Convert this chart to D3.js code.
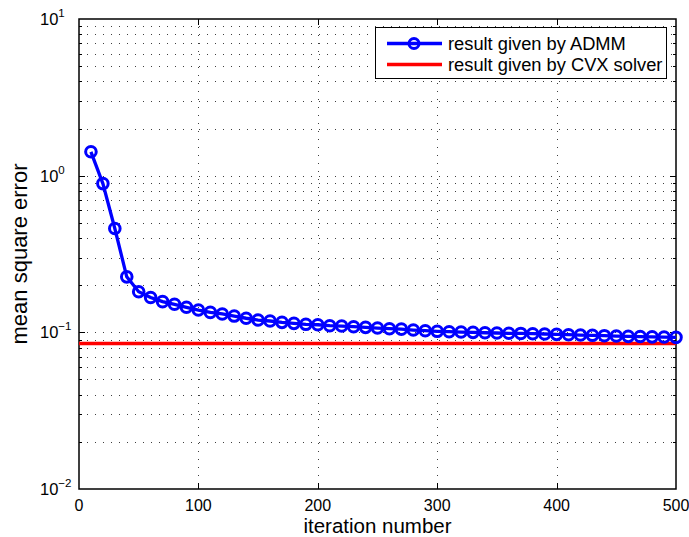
<!DOCTYPE html>
<html>
<head>
<meta charset="utf-8">
<script src="https://cdn.jsdelivr.net/npm/d3@7"></script>
<style>
  body { margin: 0; background: #fff; }
  text { font-family: "Liberation Sans", Arial, sans-serif; fill: #000; }
</style>
</head>
<body>
<div id="chart"></div>
<script>
// data
const iterations = [10, 20, 30, 40, 50, 60, 70, 80, 90, 100,
                    110, 120, 130, 140, 150, 160, 170, 180, 190, 200,
                    210, 220, 230, 240, 250, 260, 270, 280, 290, 300,
                    310, 320, 330, 340, 350, 360, 370, 380, 390, 400,
                    410, 420, 430, 440, 450, 460, 470, 480, 490, 500];
const admmMse    = [1.42, 0.89, 0.46, 0.226, 0.1815, 0.167, 0.157, 0.151, 0.1445, 0.1388,
                    0.134, 0.131, 0.127, 0.123, 0.1198, 0.1181, 0.1158, 0.1141, 0.1125, 0.1118,
                    0.1102, 0.1097, 0.1086, 0.1076, 0.1065, 0.1055, 0.1048, 0.1034, 0.1024, 0.1015,
                    0.1009, 0.1004, 0.1000, 0.0994, 0.0990, 0.0986, 0.0984, 0.0980, 0.0976, 0.0971,
                    0.0966, 0.0961, 0.0957, 0.0952, 0.0947, 0.0943, 0.0940, 0.0936, 0.0933, 0.0929];
const cvxMse     = [0.085, 0.085];
const cvxIter    = [0, 500];
const xTicks     = [0, 100, 200, 300, 400, 500];
const yTicks     = [0.01, 0.1, 1, 10];
const yExponents = ["\u22122", "\u22121", "0", "1"];
const seriesNames = ["result given by ADMM", "result given by CVX solver"];

const width  = 689;
const height = 537;
const plot = { left: 79, right: 676, top: 19, bottom: 489 };

const x = d3.scaleLinear().domain([0, 500]).range([plot.left, plot.right]);
const y = d3.scaleLog().domain([0.01, 10]).range([plot.bottom, plot.top]);

const svg = d3.select("#chart").append("svg")
  .attr("width", width)
  .attr("height", height);

// minor values for log grid
let minorVals = [];
[0.01, 0.1, 1].forEach(d => {
  for (let k = 2; k <= 9; k++) minorVals.push(d * k);
});

// grid
const grid = svg.append("g")
  .attr("stroke", "#000")
  .attr("stroke-width", 1)
  .attr("stroke-dasharray", "1,7")
  .attr("opacity", 0.75);

grid.selectAll(".vg").data(xTicks.slice(1, -1)).enter().append("line")
  .attr("x1", d => Math.round(x(d)) + 0.5).attr("x2", d => Math.round(x(d)) + 0.5)
  .attr("y1", plot.top).attr("y2", plot.bottom);

grid.selectAll(".hg").data(minorVals.concat([0.1, 1])).enter().append("line")
  .attr("x1", plot.left).attr("x2", plot.right)
  .attr("y1", d => Math.round(y(d)) + 0.5).attr("y2", d => Math.round(y(d)) + 0.5);

// ticks
const ticks = svg.append("g").attr("stroke", "#000").attr("stroke-width", 1);

xTicks.slice(1, -1).forEach(d => {
  const px = Math.round(x(d)) + 0.5;
  ticks.append("line").attr("x1", px).attr("x2", px).attr("y1", plot.bottom).attr("y2", plot.bottom - 6);
  ticks.append("line").attr("x1", px).attr("x2", px).attr("y1", plot.top).attr("y2", plot.top + 6);
});

yTicks.slice(1, -1).forEach(d => {
  const py = Math.round(y(d)) + 0.5;
  ticks.append("line").attr("x1", plot.left).attr("x2", plot.left + 6).attr("y1", py).attr("y2", py);
  ticks.append("line").attr("x1", plot.right).attr("x2", plot.right - 6).attr("y1", py).attr("y2", py);
});

minorVals.forEach(d => {
  const py = Math.round(y(d)) + 0.5;
  ticks.append("line").attr("x1", plot.left).attr("x2", plot.left + 3).attr("y1", py).attr("y2", py);
  ticks.append("line").attr("x1", plot.right).attr("x2", plot.right - 3).attr("y1", py).attr("y2", py);
});

// frame
svg.append("rect")
  .attr("x", plot.left).attr("y", plot.top)
  .attr("width", plot.right - plot.left).attr("height", plot.bottom - plot.top)
  .attr("fill", "none")
  .attr("stroke", "#000")
  .attr("stroke-width", 1.5);

// tick labels
svg.selectAll(".xl").data(xTicks).enter().append("text")
  .attr("x", d => x(d))
  .attr("y", 510.5)
  .attr("text-anchor", "middle")
  .attr("font-size", 16)
  .text(d => d);

const yl = svg.selectAll(".yl").data(yTicks).enter().append("text")
  .attr("x", 40)
  .attr("y", d => y(d) + 6)
  .attr("font-size", 16.5);
yl.append("tspan").text("10");
yl.append("tspan")
  .attr("dy", -8)
  .attr("font-size", 11.5)
  .text((d, i) => yExponents[i]);

// axis labels
svg.append("text")
  .attr("x", (plot.left + plot.right) / 2)
  .attr("y", 532.5)
  .attr("text-anchor", "middle")
  .attr("font-size", 20.5)
  .text("iteration number");

svg.append("text")
  .attr("transform", "translate(27," + (plot.top + plot.bottom) / 2 + ") rotate(-90)")
  .attr("text-anchor", "middle")
  .attr("font-size", 22)
  .text("mean square error");

// series
const line = d3.line().x(d => x(d[0])).y(d => y(d[1]));

svg.append("path")
  .datum(cvxIter.map((d, i) => [d, cvxMse[i]]))
  .attr("d", line)
  .attr("fill", "none")
  .attr("stroke", "#ff0000")
  .attr("stroke-width", 3.5);

const admm = iterations.map((d, i) => [d, admmMse[i]]);

svg.append("path")
  .datum(admm)
  .attr("d", line)
  .attr("fill", "none")
  .attr("stroke", "#0000ff")
  .attr("stroke-width", 3.3);

svg.selectAll(".mk").data(admm).enter().append("circle")
  .attr("cx", d => x(d[0]))
  .attr("cy", d => y(d[1]))
  .attr("r", 5.3)
  .attr("fill", "none")
  .attr("stroke", "#0000ff")
  .attr("stroke-width", 3);

// legend
const lg = svg.append("g");
lg.append("rect")
  .attr("x", 375.5).attr("y", 27.5)
  .attr("width", 291).attr("height", 51)
  .attr("fill", "#fff")
  .attr("stroke", "#000")
  .attr("stroke-width", 1);

const legendColors = ["#0000ff", "#ff0000"];
const legendY = [43.5, 64.5];
seriesNames.forEach((name, i) => {
  lg.append("line")
    .attr("x1", 387).attr("x2", 442)
    .attr("y1", legendY[i]).attr("y2", legendY[i])
    .attr("stroke", legendColors[i])
    .attr("stroke-width", i === 0 ? 3.3 : 3.5);
  if (i === 0) {
    lg.append("circle")
      .attr("cx", 414).attr("cy", legendY[i]).attr("r", 5)
      .attr("fill", "none")
      .attr("stroke", legendColors[i])
      .attr("stroke-width", 3);
  }
  lg.append("text")
    .attr("x", 448)
    .attr("y", legendY[i] + 6)
    .attr("font-size", 18.3)
    .text(name);
});
</script>
</body>
</html>
